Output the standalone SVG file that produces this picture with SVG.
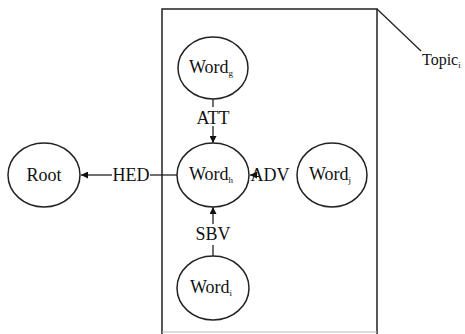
<svg xmlns="http://www.w3.org/2000/svg" width="465" height="334" viewBox="0 0 465 334">
  <defs>
    <marker id="arr" viewBox="0 0 10 10" refX="10" refY="5" markerWidth="7" markerHeight="7" markerUnits="userSpaceOnUse" orient="auto">
      <path d="M0,0 L10,5 L0,10 z" fill="#111"/>
    </marker>
    <style>
      .node { fill: #fff; stroke: #222; stroke-width: 1.5; }
      .edge { stroke: #222; stroke-width: 1.3; fill: none; }
      .lbl { font-family: "Liberation Serif", "Times New Roman", serif; font-size: 18px; fill: #111; }
      .sub { font-size: 9px; }
      .box { stroke: #222; stroke-width: 1.5; fill: none; }
    </style>
  </defs>
  <rect width="465" height="334" fill="#fff"/>

  <!-- topic frame -->
  <g id="topic">
    <path class="box" d="M162,334 V9 H377 V334"/>
    <line x1="162" y1="332" x2="377" y2="332" stroke="#bbb" stroke-width="1"/>
    <line class="edge" x1="377" y1="9" x2="421" y2="51"/>
    <text class="lbl" x="422" y="65" style="font-size:16px">Topic<tspan class="sub" dy="3">i</tspan></text>
  </g>

  <!-- dependency arcs -->
  <g id="connectors">
    <line class="edge" x1="213" y1="99" x2="213" y2="107"/>
    <line class="edge" x1="213" y1="126" x2="213" y2="143" marker-end="url(#arr)"/>
    <line class="edge" x1="150" y1="175" x2="177" y2="175"/>
    <line class="edge" x1="112" y1="175" x2="81" y2="175" marker-end="url(#arr)"/>
    <line class="edge" x1="253" y1="175" x2="250" y2="175" marker-end="url(#arr)"/>
    <line class="edge" x1="213" y1="256" x2="213" y2="245"/>
    <line class="edge" x1="213" y1="224" x2="213" y2="207" marker-end="url(#arr)"/>
    <text class="lbl" x="213" y="124" text-anchor="middle">ATT</text>
    <text class="lbl" x="131" y="181" text-anchor="middle">HED</text>
    <text class="lbl" x="270" y="181" text-anchor="middle">ADV</text>
    <text class="lbl" x="213" y="240" text-anchor="middle">SBV</text>
  </g>

  <g id="root">
    <ellipse class="node" cx="44" cy="175" rx="36" ry="32"/>
    <text class="lbl" x="44" y="181" text-anchor="middle">Root</text>
  </g>
  <g id="word-g">
    <ellipse class="node" cx="213" cy="68" rx="35" ry="31"/>
    <text class="lbl" x="211" y="73" text-anchor="middle">Word<tspan class="sub" dy="3">g</tspan></text>
  </g>
  <g id="word-h">
    <ellipse class="node" cx="213" cy="175" rx="36" ry="32"/>
    <text class="lbl" x="211" y="180" text-anchor="middle">Word<tspan class="sub" dy="3">h</tspan></text>
  </g>
  <g id="word-j">
    <ellipse class="node" cx="332" cy="175" rx="35" ry="32"/>
    <text class="lbl" x="330" y="180" text-anchor="middle">Word<tspan class="sub" dy="3">j</tspan></text>
  </g>
  <g id="word-i">
    <ellipse class="node" cx="213" cy="288" rx="36" ry="32"/>
    <text class="lbl" x="211" y="293" text-anchor="middle">Word<tspan class="sub" dy="3">i</tspan></text>
  </g>
</svg>
